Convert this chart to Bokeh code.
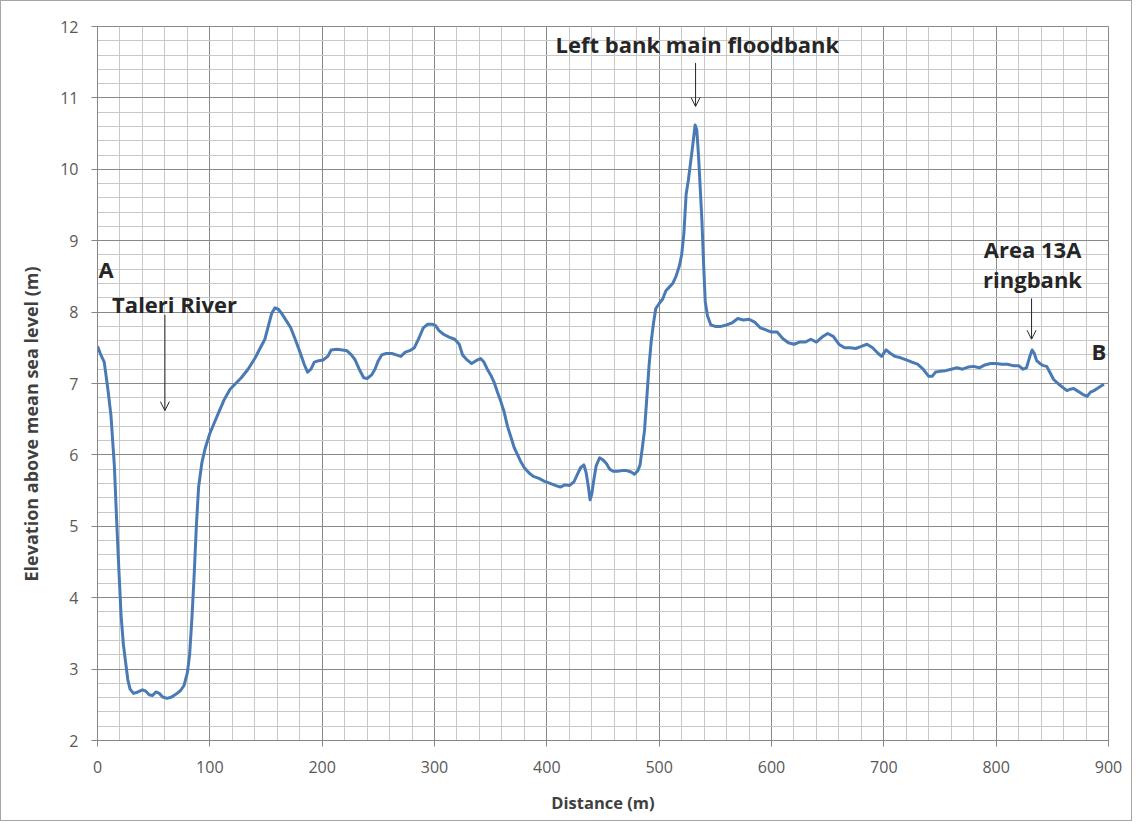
from bokeh.plotting import figure
from bokeh.models import Range1d, SingleIntervalTicker, Label, Arrow, OpenHead, ColumnDataSource, Title
from bokeh.embed import file_html
from bokeh.resources import INLINE

# ---- data: distance (m) and elevation above mean sea level (m) ----
distance = [0, 3, 6, 9, 12, 15, 17, 19, 21, 23, 25, 27, 29, 32, 36, 40, 43, 46, 49, 52,
            55, 58, 62, 66, 70, 74, 77, 80, 82, 84, 86, 88, 90, 93, 96, 100, 104, 108, 113, 118,
            123, 128, 134, 140, 145, 149, 152, 155, 158, 161, 164, 168, 172, 176, 180, 184, 187, 190, 193, 197,
            201, 205, 208, 213, 218, 222, 226, 229, 233, 237, 240, 244, 247, 250, 253, 257, 262, 266, 270, 274,
            278, 282, 286, 290, 294, 298, 301, 304, 308, 313, 318, 322, 325, 329, 333, 337, 341, 344, 347, 350,
            353, 356, 359, 362, 365, 368, 371, 374, 377, 380, 384, 388, 393, 398, 403, 408, 412, 416, 420, 424,
            427, 430, 433, 435, 437, 438.5, 440, 442, 444, 447, 450, 453, 456, 459, 463, 467, 471, 475, 478, 481,
            483, 485, 487, 489, 491, 493, 495, 497, 500, 503, 506, 509, 512, 515, 518, 520, 522, 524, 526, 528,
            530, 532, 533.5, 535, 536.5, 538, 539.5, 541, 543, 546, 550, 555, 560, 565, 570, 575, 580, 585, 590, 595,
            600, 605, 610, 615, 620, 625, 630, 635, 640, 645, 650, 655, 660, 665, 670, 675, 680, 685, 690, 695,
            698, 702, 706, 710, 715, 720, 725, 730, 735, 740, 743, 746, 750, 755, 760, 765, 770, 775, 780, 785,
            790, 795, 800, 805, 810, 815, 820, 824, 827, 830, 832, 834, 836, 839, 842, 845, 848, 851, 855, 859,
            863, 866, 869, 872, 875, 878, 881, 884, 887, 890, 893, 896]
elevation = [7.52, 7.40, 7.30, 6.95, 6.55, 5.85, 5.10, 4.40, 3.75, 3.35, 3.10, 2.85, 2.72, 2.66, 2.68, 2.71, 2.69, 2.64, 2.63, 2.68,
             2.66, 2.61, 2.59, 2.61, 2.65, 2.70, 2.77, 2.95, 3.20, 3.70, 4.30, 5.00, 5.55, 5.90, 6.10, 6.30, 6.45, 6.60, 6.78, 6.92,
             7.00, 7.08, 7.20, 7.35, 7.50, 7.62, 7.80, 7.98, 8.06, 8.04, 7.98, 7.88, 7.78, 7.62, 7.45, 7.27, 7.16, 7.20, 7.30, 7.32,
             7.33, 7.38, 7.47, 7.48, 7.47, 7.46, 7.40, 7.34, 7.20, 7.08, 7.07, 7.12, 7.20, 7.32, 7.40, 7.42, 7.42, 7.40, 7.38, 7.44,
             7.46, 7.50, 7.63, 7.78, 7.83, 7.83, 7.81, 7.74, 7.69, 7.65, 7.62, 7.55, 7.40, 7.33, 7.28, 7.32, 7.35, 7.30, 7.20, 7.12,
             7.02, 6.88, 6.75, 6.60, 6.40, 6.25, 6.10, 6.00, 5.90, 5.82, 5.75, 5.70, 5.67, 5.63, 5.60, 5.57, 5.55, 5.58, 5.57, 5.62,
             5.72, 5.82, 5.86, 5.75, 5.55, 5.37, 5.45, 5.67, 5.85, 5.96, 5.93, 5.88, 5.80, 5.77, 5.77, 5.78, 5.78, 5.76, 5.73, 5.78,
             5.86, 6.10, 6.35, 6.80, 7.25, 7.60, 7.85, 8.05, 8.12, 8.18, 8.30, 8.35, 8.40, 8.50, 8.65, 8.80, 9.10, 9.65, 9.85, 10.10,
             10.35, 10.62, 10.55, 10.20, 9.75, 9.30, 8.70, 8.15, 7.95, 7.82, 7.80, 7.80, 7.82, 7.85, 7.91, 7.89, 7.90, 7.86, 7.78, 7.75,
             7.72, 7.72, 7.63, 7.57, 7.55, 7.58, 7.58, 7.62, 7.58, 7.65, 7.70, 7.66, 7.55, 7.50, 7.50, 7.49, 7.52, 7.55, 7.50, 7.42,
             7.38, 7.47, 7.42, 7.38, 7.36, 7.33, 7.30, 7.27, 7.20, 7.10, 7.10, 7.16, 7.17, 7.18, 7.20, 7.22, 7.20, 7.23, 7.24, 7.22,
             7.26, 7.28, 7.28, 7.27, 7.27, 7.25, 7.25, 7.20, 7.22, 7.38, 7.47, 7.42, 7.32, 7.28, 7.25, 7.24, 7.15, 7.06, 7.00, 6.95,
             6.90, 6.92, 6.93, 6.90, 6.87, 6.84, 6.82, 6.88, 6.90, 6.93, 6.96, 6.99]

x_ticks_interval = 100
y_ticks_interval = 1

# ---- annotations: text, x, y ----
note_texts = ["A", "Taleri River", "Left bank main floodbank", "Area 13A", "ringbank", "B"]
note_x = [1, 68.6, 534, 832.4, 832.4, 891.5]
note_y = [8.61, 8.11, 11.76, 8.89, 8.47, 7.46]
note_align = ["left", "center", "center", "center", "center", "center"]

arrow_x = [60, 532.4, 831.5]
arrow_y_start = [7.96, 11.49, 8.19]
arrow_y_end = [6.62, 10.88, 7.62]

FONT = "Open Sans"
MAJOR = "#888888"
MINOR = "#c8c8c8"

p = figure(width=1132, height=821,
           x_range=Range1d(0, 900), y_range=Range1d(2, 12),
           output_backend="svg", toolbar_location=None,
           min_border_left=96, min_border_right=25, min_border_top=25, min_border_bottom=82,
           background_fill_color="white", border_fill_color="white")
p.outline_line_color = MAJOR
p.styles = {"border": "1px solid #a6a6a6", "box-sizing": "border-box"}

p.xaxis.ticker = SingleIntervalTicker(interval=x_ticks_interval, num_minor_ticks=5)
p.yaxis.ticker = SingleIntervalTicker(interval=y_ticks_interval, num_minor_ticks=5)

for ax in (p.xaxis[0], p.yaxis[0]):
    ax.axis_line_color = "#868686"
    ax.major_tick_line_color = "#868686"
    ax.major_tick_in = 0
    ax.major_tick_out = 6
    ax.minor_tick_in = 0
    ax.minor_tick_out = 0
    ax.major_label_text_font = FONT
    ax.major_label_text_font_size = "16px"
    ax.major_label_text_color = "#595959"

p.xaxis.major_label_standoff = 14
p.yaxis.major_label_standoff = 13

p.xaxis.axis_label = "Distance (m)"
p.xaxis.axis_label_text_font = FONT
p.xaxis.axis_label_text_font_style = "bold"
p.xaxis.axis_label_text_font_size = "16.5px"
p.xaxis.axis_label_text_color = "#404040"
p.xaxis.axis_label_standoff = 15

for g in (p.xgrid[0], p.ygrid[0]):
    g.grid_line_color = MAJOR
    g.grid_line_width = 1
    g.minor_grid_line_color = MINOR
    g.minor_grid_line_width = 1

src = ColumnDataSource(dict(x=distance, y=elevation))
p.line("x", "y", source=src, line_color="#4a7ab4", line_width=3, line_join="round")

# y-axis title (sits below centre in the reference)
p.add_layout(Title(text="Elevation above mean sea level  (m)", align="left", offset=159,
                   text_font=FONT, text_font_style="bold", text_font_size="18px",
                   text_color="#404040", standoff=30), "left")

for t, x, y, a in zip(note_texts, note_x, note_y, note_align):
    p.add_layout(Label(x=x, y=y, text=t, text_font=FONT, text_font_style="bold",
                       text_font_size="22px", text_color="#262626",
                       text_align=a, text_baseline="middle"))

for x, y0, y1 in zip(arrow_x, arrow_y_start, arrow_y_end):
    p.add_layout(Arrow(end=OpenHead(size=9, line_width=1, line_color="#262626"),
                       x_start=x, y_start=y0, x_end=x, y_end=y1,
                       line_width=1, line_color="#262626"))

open("out.html", "w").write(file_html(p, INLINE))
